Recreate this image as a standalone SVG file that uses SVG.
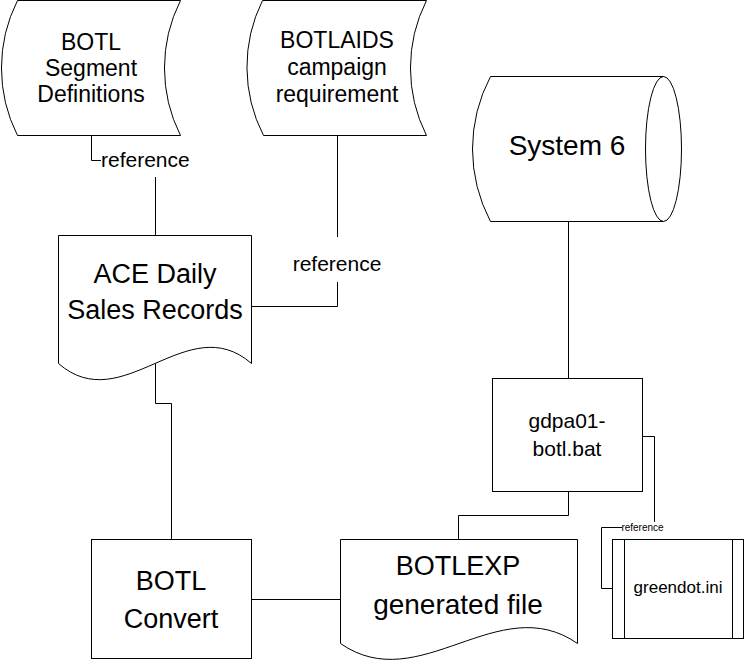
<svg xmlns="http://www.w3.org/2000/svg" width="745" height="660" viewBox="0 0 745 660">
<style>
.s{fill:#fff;stroke:#000;stroke-width:1}
.c{fill:none;stroke:#000;stroke-width:1}
text{font-family:"Liberation Sans",Arial,sans-serif;fill:#000;text-anchor:middle}
.t22{font-size:23px}
.t27{font-size:27px}
.t28{font-size:28px}
.t21{font-size:21px}
.lbl{font-size:21px}
.small{font-size:10px}
</style>
<rect width="745" height="660" fill="#fff"/>
<g id="connectors">
<polyline class="c" points="91.5,135.5 91.5,160.5 101,160.5"/>
<line class="c" x1="155.5" y1="177" x2="155.5" y2="235.5"/>
<polyline class="c" points="251.5,306.5 337.5,306.5 337.5,282"/>
<line class="c" x1="337.5" y1="237" x2="337.5" y2="135.5"/>
<polyline class="c" points="155.5,363.5 155.5,403.5 171.5,403.5 171.5,539.5"/>
<line class="c" x1="251.5" y1="599.5" x2="340.5" y2="599.5"/>
<line class="c" x1="568.5" y1="221.5" x2="568.5" y2="378.5"/>
<polyline class="c" points="568.5,491.5 568.5,515.5 458.5,515.5 458.5,539.5"/>
<polyline class="c" points="642.5,436.5 654.5,436.5 654.5,522"/>
<polyline class="c" points="622,527.5 601.5,527.5 601.5,588.5 612.5,588.5"/>
<text class="lbl" x="101" y="167" style="text-anchor:start">reference</text>
<text class="lbl" x="337" y="271">reference</text>
<text class="small" x="642.5" y="530.5">reference</text>
</g>
<g id="botl-segment-definitions">
<path class="s" d="M17.5,0.5 L180.5,0.5 A150,150 0 0,0 180.5,135.5 L17.5,135.5 A150,150 0 0,1 17.5,0.5 Z"/>
<text class="t22" x="91" y="50">BOTL</text>
<text class="t22" x="91" y="76">Segment</text>
<text class="t22" x="91" y="102">Definitions</text>
</g>
<g id="botlaids-campaign-requirement">
<path class="s" d="M262.5,0.5 L426.5,0.5 A150,150 0 0,0 426.5,135.5 L263.5,135.5 A150,150 0 0,1 262.5,0.5 Z"/>
<text class="t22" x="337" y="48">BOTLAIDS</text>
<text class="t22" x="337" y="75">campaign</text>
<text class="t22" x="337" y="102">requirement</text>
</g>
<g id="system-6">
<path class="s" d="M490.5,76.5 L663.5,76.5 A18,72.5 0 0,1 663.5,221.5 L490.5,221.5 A155,155 0 0,1 490.5,76.5 Z"/>
<path class="c" d="M663.5,76.5 A18,72.5 0 0,0 663.5,221.5"/>
<text class="t28" x="567" y="155">System 6</text>
</g>
<g id="ace-daily-sales-records">
<path class="s" d="M58.5,235.5 L251.5,235.5 L251.5,363.5 C187.2,307.5 122.8,419.5 58.5,363.5 Z"/>
<text class="t27" x="155" y="283">ACE Daily</text>
<text class="t27" x="155" y="319">Sales Records</text>
</g>
<g id="gdpa01-botl-bat">
<rect class="s" x="492.5" y="378.5" width="150" height="113"/>
<text class="t21" x="567" y="428">gdpa01-</text>
<text class="t21" x="567" y="456">botl.bat</text>
</g>
<g id="botl-convert">
<rect class="s" x="91.5" y="539.5" width="160" height="119"/>
<text class="t27" x="171" y="590">BOTL</text>
<text class="t27" x="171" y="628">Convert</text>
</g>
<g id="botlexp-generated-file">
<path class="s" d="M340.5,539.5 L577.5,539.5 L577.5,643.5 C498.5,588.5 419.5,698.5 340.5,643.5 Z"/>
<text class="t27" x="458" y="575">BOTLEXP</text>
<text class="t28" x="458" y="614">generated file</text>
</g>
<g id="greendot-ini">
<rect class="s" x="612.5" y="539.5" width="131" height="99"/>
<line class="c" x1="624.5" y1="539.5" x2="624.5" y2="638.5"/>
<line class="c" x1="732.5" y1="539.5" x2="732.5" y2="638.5"/>
<text x="678" y="593" style="font-size:17px">greendot.ini</text>
</g>
</svg>
